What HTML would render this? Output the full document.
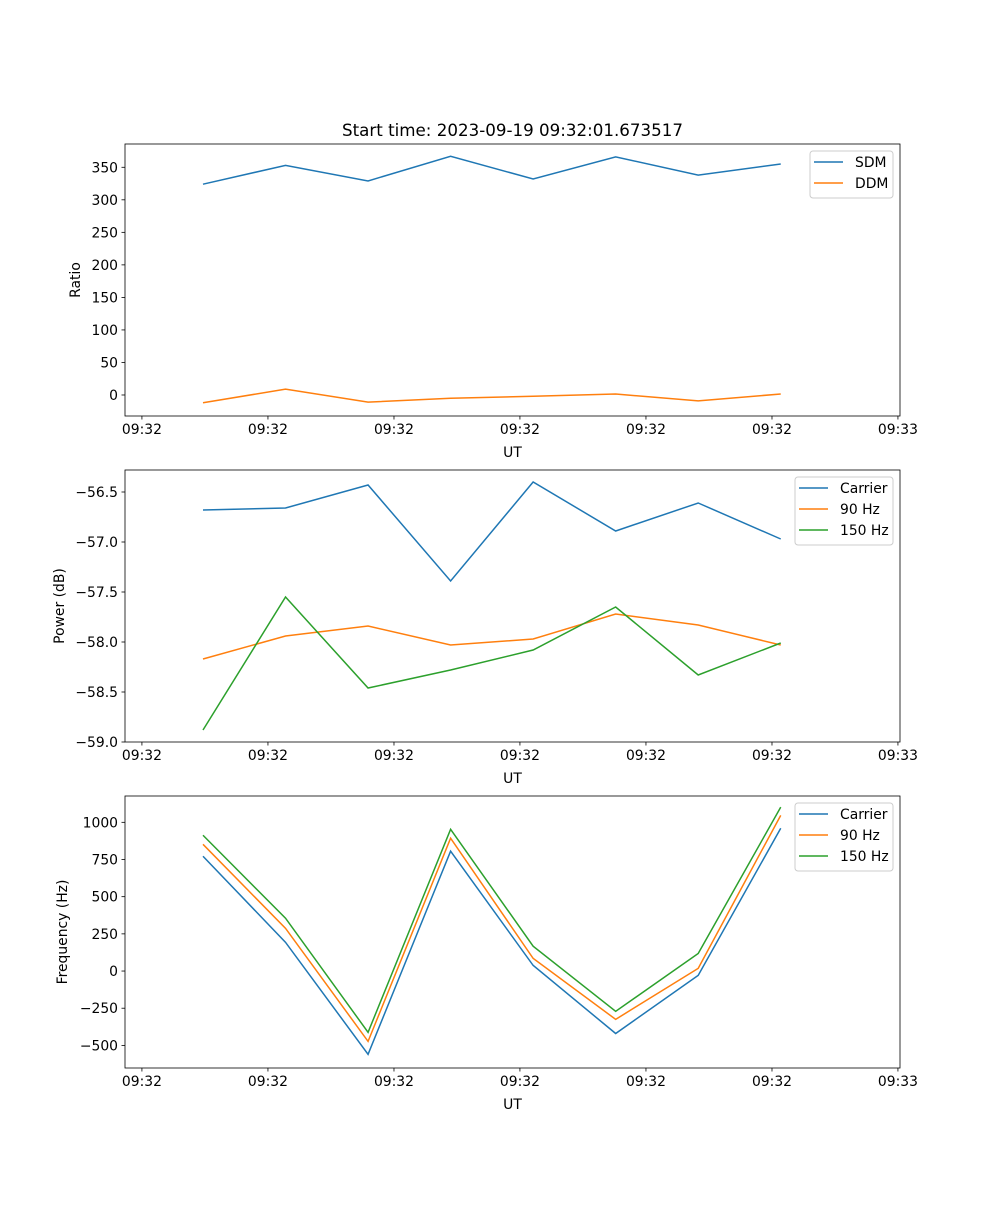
<!DOCTYPE html>
<html><head><meta charset="utf-8"><style>
body{margin:0;background:#fff}
svg text{font-family:"DejaVu Sans","Liberation Sans",sans-serif;fill:#000}
</style></head><body>
<svg id="fig" width="1000" height="1200" xmlns="http://www.w3.org/2000/svg">
<rect width="1000" height="1200" fill="#fff"/>
<text x="512.5" y="136" font-size="16.7" text-anchor="middle">Start time: 2023-09-19 09:32:01.673517</text>
</svg>
<script>
const samples=[0,1,2,3,4,5,6,7];
const xTicks=[-0.74,0.787,2.314,3.84,5.367,6.894,8.42];
const xTickLabels=["09:32","09:32","09:32","09:32","09:32","09:32","09:33"];
const sdm=[324,353,329,367,332,366,338,355];
const ddm=[-12,9,-11,-5,-2,1.5,-9,1.5];
const powCarrier=[-56.68,-56.66,-56.43,-57.39,-56.40,-56.89,-56.61,-56.97];
const pow90=[-58.17,-57.94,-57.84,-58.03,-57.97,-57.72,-57.83,-58.03];
const pow150=[-58.88,-57.55,-58.46,-58.28,-58.08,-57.65,-58.33,-58.01];
const frqCarrier=[772,193,-560,806,38,-420,-29,960];
const frq90=[852,287,-473,893,85,-325,18,1047];
const frq150=[913,355,-412,953,167,-271,118,1102];
const ratioTicks=[0,50,100,150,200,250,300,350];
const powTicks=[-59,-58.5,-58,-57.5,-57,-56.5];
const powTickLabels=["\u221259.0","\u221258.5","\u221258.0","\u221257.5","\u221257.0","\u221256.5"];
const frqTicks=[-500,-250,0,250,500,750,1000];
const frqTickLabels=["\u2212500","\u2212250","0","250","500","750","1000"];

const NS="http://www.w3.org/2000/svg";
const svg=document.getElementById('fig');
function mk(t,a,p){const e=document.createElementNS(NS,t);for(const k in a)e.setAttribute(k,a[k]);(p||svg).appendChild(e);return e;}
const L=125,R=900,XMIN=-0.945,XMAX=8.445;
const xs=v=>L+(v-XMIN)/(XMAX-XMIN)*(R-L);
const C=['#1f77b4','#ff7f0e','#2ca02c'];

function panel(name,top,ymin,ymax,yt,ytl,ylabel,series,names,legend){
  const bot=top+272;
  const ys=v=>bot-(v-ymin)/(ymax-ymin)*272;
  const g=mk('g',{});
  
  
  series.forEach((s,i)=>{
    const p=mk('polyline',{points:s.map((v,j)=>xs(samples[j])+','+ys(v)).join(' '),fill:'none',stroke:C[i],'stroke-width':1.5},g);
    
    
  });
  const fr=mk('rect',{x:L,y:top,width:R-L,height:272,fill:'none',stroke:'#000','stroke-width':0.8},g);
  
  
  xTicks.forEach((t,i)=>{
    const x=xs(t);
    mk('line',{x1:x,x2:x,y1:bot,y2:bot+3.5,stroke:'#000','stroke-width':0.8},g);
    const tx=mk('text',{x:x,y:bot+18,'font-size':13.9,'text-anchor':'middle'},g);
    tx.textContent=xTickLabels[i];
    
    
  });
  yt.forEach((t,i)=>{
    const y=ys(t);
    mk('line',{x1:L-3.5,x2:L,y1:y,y2:y,stroke:'#000','stroke-width':0.8},g);
    const tx=mk('text',{x:L-7,y:y+5,'font-size':13.9,'text-anchor':'end'},g);
    tx.textContent=ytl[i];
    
    
  });
  const xl=mk('text',{x:512.5,y:bot+41,'font-size':13.9,'text-anchor':'middle'},g);
  xl.textContent='UT';
  
  
  const yx=legend.yx;
  const yl=mk('text',{x:yx,y:top+136,'font-size':13.9,'text-anchor':'middle',transform:`rotate(-90 ${yx} ${top+136})`},g);
  yl.textContent=ylabel;
  
  
  const lg=mk('g',{},g);
  
  
  const h=names.length*21+5;
  mk('rect',{x:legend.x,y:top+7,width:893-legend.x,height:h,rx:3,fill:'#fff','fill-opacity':0.8,stroke:'#ccc'},lg);
  names.forEach((n,i)=>{
    const y=top+18+i*21;
    const e=mk('g',{},lg);
    
    
    mk('line',{x1:legend.x+4,x2:legend.x+33,y1:y,y2:y,stroke:C[i],'stroke-width':1.5},e);
    const t=mk('text',{x:legend.x+45,y:y+5,'font-size':13.9},e);
    t.textContent=n;
  });
}
panel('ratio',144,-32.3,385.8,ratioTicks,ratioTicks.map(String),'Ratio',[sdm,ddm],['SDM','DDM'],{x:810,yx:80});
panel('power',470,-59,-56.28,powTicks,powTickLabels,'Power (dB)',[powCarrier,pow90,pow150],['Carrier','90 Hz','150 Hz'],{x:795,yx:64});
panel('frequency',796,-652,1177,frqTicks,frqTickLabels,'Frequency (Hz)',[frqCarrier,frq90,frq150],['Carrier','90 Hz','150 Hz'],{x:795,yx:67});
</script>
</body></html>
